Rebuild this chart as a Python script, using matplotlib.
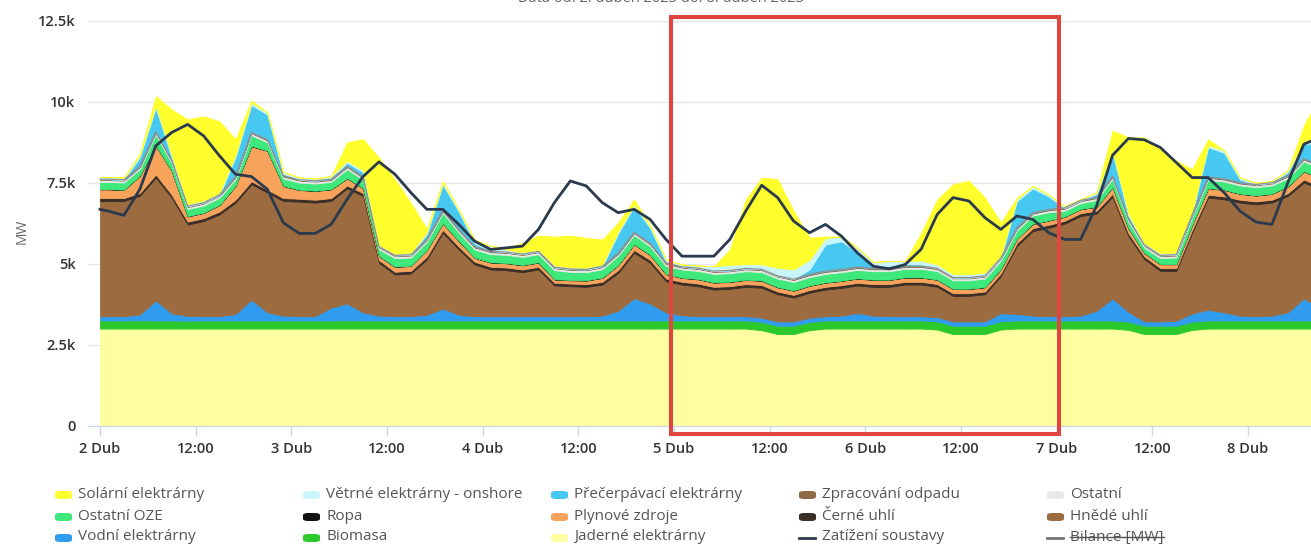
import numpy as np
import matplotlib
matplotlib.use("Agg")
import matplotlib.pyplot as plt
from matplotlib.patches import Rectangle, FancyBboxPatch
from matplotlib.lines import Line2D
from matplotlib.transforms import IdentityTransform

# hours since 2 Dub 00:00
hours = [0] + list(range(1, 154, 2))

jaderne = [3000, 3000, 3000, 3000, 3000, 3000, 3000, 3000, 3000, 3000,
           3000, 3000, 3000, 3000, 3000, 3000, 3000, 3000, 3000, 3000,
           3000, 3000, 3000, 3000, 3000, 3000, 3000, 3000, 3000, 3000,
           3000, 3000, 3000, 3000, 3000, 3000, 3000, 3000, 3000, 3000,
           3000, 3000, 2950, 2830, 2830, 2950, 3000, 3000, 3000, 3000,
           3000, 3000, 3000, 2970, 2830, 2830, 2830, 2970, 3000, 3000,
           3000, 3000, 3000, 3000, 3000, 2960, 2830, 2830, 2830, 2960,
           3000, 3000, 3000, 3000, 3000, 3000, 3000, 3000]
biomasa = [250, 250, 250, 255, 250, 250, 245, 250, 250, 250,
           250, 250, 250, 250, 250, 250, 255, 250, 250, 250,
           250, 250, 250, 250, 250, 250, 250, 250, 250, 250,
           250, 250, 250, 250, 250, 250, 250, 250, 250, 250,
           250, 250, 255, 260, 260, 255, 250, 250, 250, 250,
           250, 250, 250, 255, 260, 260, 260, 255, 250, 250,
           250, 250, 250, 250, 250, 255, 260, 260, 260, 255,
           250, 250, 250, 250, 250, 250, 250, 250]
vodni = [130, 130, 130, 180, 620, 220, 150, 130, 130, 200,
         640, 250, 150, 130, 130, 400, 520, 250, 150, 130,
         130, 180, 365, 180, 130, 130, 130, 130, 130, 130,
         130, 130, 150, 300, 690, 520, 250, 160, 130, 130,
         130, 130, 130, 130, 130, 130, 130, 150, 230, 150,
         130, 130, 130, 130, 130, 130, 130, 250, 200, 150,
         130, 130, 150, 300, 680, 300, 130, 130, 150, 250,
         330, 250, 150, 130, 150, 250, 680, 400]
hnede = [3560, 3560, 3560, 3665, 3794, 3575, 2818, 2940, 3147, 3439,
         3567, 3700, 3540, 3540, 3509, 3290, 3553, 3595, 1631, 1289,
         1320, 1704, 2345, 2013, 1598, 1444, 1422, 1360, 1444, 950,
         927, 907, 959, 1170, 1400, 1261, 962, 949, 927, 824,
         845, 907, 926, 839, 736, 771, 824, 856, 848, 887,
         907, 979, 979, 937, 787, 787, 839, 1147, 2096, 2611,
         2735, 2860, 3075, 3000, 3140, 2340, 1924, 1561, 1541, 2500,
         3465, 3492, 3490, 3457, 3490, 3595, 3579, 3650]
cerne = [90, 90, 90, 90, 95, 90, 90, 90, 90, 90,
         95, 90, 90, 90, 90, 90, 90, 90, 85, 85,
         85, 90, 90, 90, 85, 85, 85, 85, 85, 85,
         85, 85, 85, 90, 90, 90, 85, 85, 85, 85,
         85, 85, 85, 85, 85, 85, 85, 85, 85, 85,
         85, 85, 85, 85, 85, 85, 85, 85, 90, 90,
         90, 90, 90, 90, 95, 90, 85, 85, 85, 90,
         90, 90, 90, 90, 90, 90, 95, 90]
plynove = [270, 270, 250, 530, 890, 735, 160, 160, 200, 425,
           1077, 1200, 375, 270, 270, 270, 220, 150, 120, 150,
           150, 200, 200, 167, 120, 130, 130, 130, 130, 100,
           100, 110, 120, 150, 170, 150, 130, 120, 130, 130,
           130, 130, 130, 130, 130, 130, 130, 130, 130, 130,
           130, 130, 130, 130, 130, 130, 130, 130, 130, 130,
           130, 120, 120, 120, 200, 150, 100, 120, 120, 150,
           200, 200, 180, 180, 180, 200, 250, 250]
ropa = [10, 10, 10, 10, 15, 10, 10, 10, 10, 10,
        15, 10, 10, 10, 10, 10, 10, 10, 10, 10,
        10, 10, 10, 10, 10, 10, 10, 10, 10, 10,
        10, 10, 10, 10, 10, 10, 10, 10, 10, 10,
        10, 10, 10, 10, 10, 10, 10, 10, 10, 10,
        10, 10, 10, 10, 10, 10, 10, 10, 10, 10,
        10, 10, 10, 10, 10, 10, 10, 10, 10, 10,
        10, 10, 10, 10, 10, 10, 10, 10]
oze = [220, 220, 220, 200, 330, 230, 220, 220, 220, 200,
       330, 250, 220, 220, 220, 220, 280, 250, 200, 260,
       250, 250, 310, 260, 250, 250, 250, 250, 250, 280,
       250, 250, 260, 280, 280, 260, 250, 250, 250, 260,
       260, 260, 260, 260, 260, 260, 260, 260, 260, 260,
       260, 260, 260, 260, 260, 260, 260, 250, 250, 250,
       250, 180, 180, 200, 250, 200, 160, 180, 200, 220,
       250, 250, 250, 250, 250, 250, 300, 300]
ostatni = [60, 60, 60, 60, 60, 60, 60, 60, 60, 60,
           60, 60, 60, 60, 60, 60, 60, 60, 60, 60,
           60, 60, 60, 60, 60, 60, 60, 60, 60, 60,
           60, 60, 60, 60, 60, 60, 60, 60, 60, 60,
           60, 60, 60, 60, 60, 60, 60, 60, 60, 60,
           60, 60, 60, 60, 60, 60, 60, 60, 60, 60,
           60, 60, 60, 60, 60, 60, 60, 60, 60, 60,
           60, 60, 60, 60, 60, 60, 60, 60]
odpad = [25, 25, 25, 25, 25, 25, 25, 25, 25, 25,
         25, 25, 25, 25, 25, 25, 25, 25, 25, 25,
         25, 25, 25, 25, 25, 25, 25, 25, 25, 25,
         25, 25, 25, 25, 25, 25, 25, 25, 25, 25,
         25, 25, 25, 25, 25, 25, 25, 25, 25, 25,
         25, 25, 25, 25, 25, 25, 25, 25, 25, 25,
         25, 25, 25, 25, 25, 25, 25, 25, 25, 25,
         25, 25, 25, 25, 25, 25, 25, 25]
precerpavaci = [0, 0, 0, 280, 740, 100, 0, 0, 0, 590,
                847, 773, 50, 0, 0, 30, 110, 150, 0, 0,
                0, 150, 790, 560, 100, 20, 0, 0, 0, 0,
                0, 0, 0, 600, 800, 480, 50, 0, 0, 0,
                0, 0, 0, 0, 0, 150, 820, 870, 450, 50,
                80, 60, 50, 0, 0, 0, 0, 0, 820, 750,
                400, 0, 0, 100, 720, 100, 0, 0, 0, 50,
                920, 800, 100, 0, 0, 100, 450, 700]
vetrne = [70, 70, 70, 60, 70, 70, 70, 70, 70, 70,
          70, 70, 70, 70, 70, 70, 60, 60, 50, 50,
          60, 60, 60, 60, 110, 150, 80, 50, 50, 60,
          50, 50, 50, 60, 60, 60, 60, 70, 80, 150,
          170, 130, 150, 250, 300, 300, 200, 150, 150, 150,
          150, 100, 120, 120, 100, 100, 100, 60, 60, 80,
          60, 50, 40, 50, 60, 60, 60, 60, 60, 50,
          60, 80, 60, 50, 50, 60, 60, 60]
solarni = [0, 0, 0, 50, 290, 1400, 2617, 2600, 2200, 490,
           70, 0, 0, 0, 0, 0, 570, 960, 2697, 2298,
           1545, 100, 50, 0, 0, 0, 50, 300, 440, 890,
           985, 923, 779, 275, 157, 30, 0, 0, 0, 0,
           470, 2000, 2680, 2740, 1810, 680, 50, 0, 0, 0,
           0, 0, 850, 2000, 2780, 2890, 2316, 1030, 50, 0,
           0, 0, 0, 0, 624, 2358, 3264, 3224, 2844, 1307,
           190, 0, 0, 0, 0, 0, 510, 1400]
zatizeni = [6683, 6630, 6497, 7302, 8644, 9058, 9306, 8953, 8334, 7767,
            7695, 7302, 6270, 5939, 5939, 6218, 6992, 7695, 8150, 7767,
            7200, 6683, 6683, 6218, 5700, 5443, 5495, 5546, 6063, 6890,
            7560, 7405, 6890, 6580, 6683, 6373, 5753, 5236, 5236, 5236,
            5753, 6630, 7426, 7045, 6320, 5960, 6218, 5855, 5340, 4926,
            4845, 4978, 5450, 6520, 7045, 6940, 6425, 6063, 6475, 6373,
            5960, 5753, 5753, 6785, 8350, 8872, 8830, 8594, 8129, 7664,
            7664, 7200, 6630, 6290, 6218, 7509, 8696, 8900]

tick_hours = [0, 12, 24, 36, 48, 60, 72, 84, 96, 108, 120, 132, 144]
tick_labels = ['2 Dub', '12:00', '3 Dub', '12:00', '4 Dub', '12:00', '5 Dub',
               '12:00', '6 Dub', '12:00', '7 Dub', '12:00', '8 Dub']
y_ticks = [0, 2500, 5000, 7500, 10000, 12500]
y_labels = ['0', '2.5k', '5k', '7.5k', '10k', '12.5k']

plt.rcParams['font.family'] = ['Open Sans', 'DejaVu Sans']

W, H = 1311, 545
fig = plt.figure(figsize=(W / 100, H / 100), dpi=100)
ax = fig.add_axes([88 / W, (H - 425.7) / H, (W - 88) / W, (425.7 - 21) / H])

series = [jaderne, biomasa, vodni, hnede, cerne, plynove, ropa, oze,
          ostatni, odpad, precerpavaci, vetrne, solarni]
colors = ['#fefda0', '#2cc92c', '#2f9cf0', '#9c6b3f', '#3a2e27', '#f7a35c',
          '#111111', '#3fe87a', '#e8e8e8', '#8c6b46', '#47c8f0', '#c8f6fa',
          '#ffff2e']
ax.stackplot(hours, *series, colors=colors, linewidth=0.6, edgecolor='face')

cum = np.cumsum(np.array(series, dtype=float), axis=0)
ax.plot(hours, cum[9], color='#8f8f8f', lw=0.9)
ax.plot(hours, zatizeni, color='#2b3a4c', lw=2)

ax.set_xlim(-1.5, 151.9)
ax.set_ylim(0, 12500)
ax.set_yticks(y_ticks)
ax.set_yticklabels(y_labels, fontweight='semibold')
ax.set_xticks(tick_hours)
ax.set_xticklabels(tick_labels, fontweight='semibold')
ax.grid(axis='y', color='#e6e6e6', lw=1)
ax.set_axisbelow(True)
for s in ['top', 'right', 'left']:
    ax.spines[s].set_visible(False)
ax.spines['bottom'].set_color('#ccd6eb')
ax.tick_params(axis='y', length=0, pad=9, labelsize=10.5, labelcolor='#333333')
ax.tick_params(axis='x', length=7, width=1, color='#ccd6eb', pad=5,
               labelsize=10.5, labelcolor='#333333')
ax.set_ylabel('MW', color='#666666', fontsize=10)
ax.yaxis.set_label_coords(-0.048, 0.48)

# title, cut off at the top edge as in the source image
fig.text(661 / W, 1 - 2 / H, 'Data od: 2. duben 2023 do: 8. duben 2023',
         ha='center', va='baseline', fontsize=10.5, color='#666666')

# red frame
fig.add_artist(Rectangle((671 / W, 1 - 434 / H), (1059 - 671) / W, (434 - 17) / H,
                         transform=fig.transFigure, fill=False,
                         ec='#e0463f', lw=2.9))

# legend
names = [['Solární elektrárny', 'Větrné elektrárny - onshore', 'Přečerpávací elektrárny',
          'Zpracování odpadu', 'Ostatní'],
         ['Ostatní OZE', 'Ropa', 'Plynové zdroje', 'Černé uhlí', 'Hnědé uhlí'],
         ['Vodní elektrárny', 'Biomasa', 'Jaderné elektrárny', 'Zatížení soustavy',
          'Bilance [MW]']]
swatch = [['#ffff2e', '#c8f6fa', '#47c8f0', '#8c6b46', '#e8e8e8'],
          ['#3fe87a', '#111111', '#f7a35c', '#3a2e27', '#9c6b3f'],
          ['#2f9cf0', '#2cc92c', '#fefda0', None, None]]
col_x = [55, 303, 551, 799, 1047]
row_y = [494, 516, 537]
strike = None
for r in range(3):
    for c in range(5):
        x0 = col_x[c]
        yc = row_y[r]
        if swatch[r][c] is not None:
            fig.add_artist(FancyBboxPatch((x0 / W, 1 - (yc + 5) / H), 17 / W, 8 / H,
                                          boxstyle='round,pad=0,rounding_size=0.004',
                                          transform=fig.transFigure,
                                          fc=swatch[r][c], ec='none'))
        else:
            lc = '#2b3a4c' if c == 3 else '#777777'
            fig.add_artist(Line2D([x0 / W, (x0 + 16) / W], [1 - (yc + 1) / H] * 2,
                                  transform=fig.transFigure, color=lc, lw=2))
        t = fig.text((x0 + 23) / W, 1 - yc / H, names[r][c], ha='left', va='center',
                     fontsize=11, color='#555555')
        if r == 2 and c == 4:
            strike = t

fig.canvas.draw()
bb = strike.get_window_extent()
ym = bb.y0 + bb.height * 0.47
fig.add_artist(Line2D([bb.x0, bb.x1], [ym, ym], transform=IdentityTransform(),
                      color='#555555', lw=1))

fig.savefig('out.png', dpi=100)
